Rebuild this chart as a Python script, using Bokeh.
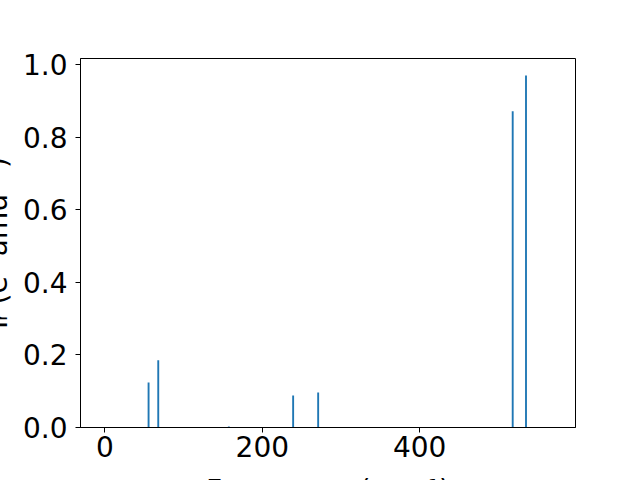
from bokeh.plotting import figure
from bokeh.models import Range1d, FixedTicker, PrintfTickFormatter
from bokeh.embed import file_html
from bokeh.resources import INLINE

# Data
freqs = [55.5, 67.8, 157.5, 239.2, 271.0, 518.2, 535.1]
intensities = [0.124, 0.185, 0.003, 0.088, 0.0965, 0.871, 0.970]
x_ticks = [0, 200, 400]
y_ticks = [0.0, 0.2, 0.4, 0.6, 0.8, 1.0]
x_label = "Frequency (cm\u207b\u00b9)"
y_label = "I\u1d63 (e\u00b2 amu\u207b\u00b9)"

p = figure(frame_width=495, frame_height=369, output_backend="svg", toolbar_location=None,
           x_range=Range1d(-31, 598), y_range=Range1d(0, 1.0165),
           min_border_left=110, min_border_right=65, min_border_top=58, min_border_bottom=5,
           x_axis_label=x_label, y_axis_label=y_label)
# shift the canvas so the frame sits where the reference has it and the
# axis titles are cut by the window edges, as in the reference
p.styles = {"margin-left": "-30px"}

p.vbar(x=freqs, top=intensities, bottom=0, width=2.4, color="#1f77b4", line_color=None)

p.xgrid.visible = False
p.ygrid.visible = False
p.outline_line_color = "black"
p.background_fill_color = "white"
p.border_fill_color = "white"

for ax in (p.xaxis[0], p.yaxis[0]):
    ax.major_label_text_font = "DejaVu Sans"
    ax.major_label_text_font_size = "28px"
    ax.major_label_text_color = "black"
    ax.axis_label_text_font = "DejaVu Sans"
    ax.axis_label_text_font_size = "28px"
    ax.axis_label_text_font_style = "normal"
    ax.axis_label_text_color = "black"
    ax.major_tick_out = 5
    ax.major_tick_in = 0
    ax.minor_tick_out = 0
    ax.minor_tick_in = 0

p.xaxis[0].axis_label_standoff = 14
p.yaxis[0].axis_label_standoff = 6
p.xaxis[0].ticker = FixedTicker(ticks=x_ticks)
p.yaxis[0].ticker = FixedTicker(ticks=y_ticks)
p.yaxis[0].formatter = PrintfTickFormatter(format="%.1f")
p.xaxis[0].major_label_standoff = 3
p.yaxis[0].major_label_standoff = 8

open("out.html", "w").write(file_html(p, INLINE))
